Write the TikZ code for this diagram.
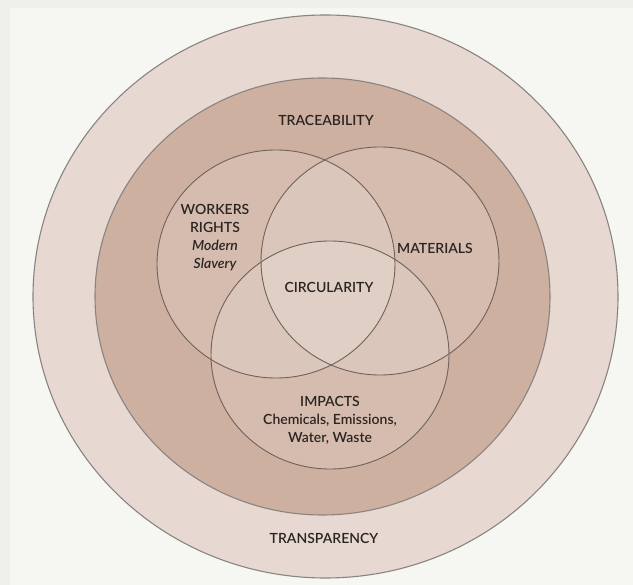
\documentclass[tikz,border=0pt]{standalone}
\usepackage{fontspec}
\setmainfont{Lato Semibold}[ItalicFont={Lato Semibold Italic}]
\definecolor{pagebg}{HTML}{F6F6F3}
\definecolor{pageedge}{HTML}{EFEFEC}
\definecolor{ringfill}{HTML}{E7D8D1}
\definecolor{corefill}{HTML}{CDB0A0}
\definecolor{rimline}{HTML}{8A8480}
\definecolor{vennline}{HTML}{6E625B}
\definecolor{ink}{HTML}{2B2522}
\begin{document}
\begin{tikzpicture}[x=1pt,y=-1pt,
  lbl/.style={font=\fontsize{14}{18}\selectfont, text=ink, align=center, inner sep=0pt},
  ring/.style={draw=rimline, line width=1.1pt},
  venn/.style={fill=white, fill opacity=0.16},
  vennedge/.style={draw=vennline, line width=0.9pt}]
  % page
  \fill[pageedge] (0,0) rectangle (633,585);
  \fill[pagebg] (10,8) rectangle (633,585);
  \useasboundingbox (0,0) rectangle (633,585);

  % transparency ring and traceability disc
  \path[ring, fill=ringfill] (325.5,296.5) ellipse [x radius=292.5, y radius=281.5];
  \path[ring, fill=corefill] (322.5,296.5) ellipse [x radius=227.5, y radius=218.5];

  % three overlapping areas
  \coordinate (cw) at (276,264);
  \coordinate (cm) at (380,261);
  \coordinate (ci) at (330,355);
  \foreach \c in {cw,cm,ci}
    \fill[venn] (\c) ellipse [x radius=119, y radius=114];
  \foreach \c in {cw,cm,ci}
    \draw[vennedge] (\c) ellipse [x radius=119, y radius=114];

  % labels
  \node[lbl] (trace) at (326,120) {TRACEABILITY};
  \node[lbl] (workers) at (215,238) {WORKERS\\RIGHTS\\\itshape Modern\\\itshape Slavery};
  \node[lbl] (materials) at (435,248) {MATERIALS};
  \node[lbl] (circ) at (329,287) {CIRCULARITY};
  \node[lbl] (impacts) at (330,420) {IMPACTS\\Chemicals, Emissions,\\Water, Waste};
  \node[lbl] (transp) at (324,538) {TRANSPARENCY};
\end{tikzpicture}
\end{document}
